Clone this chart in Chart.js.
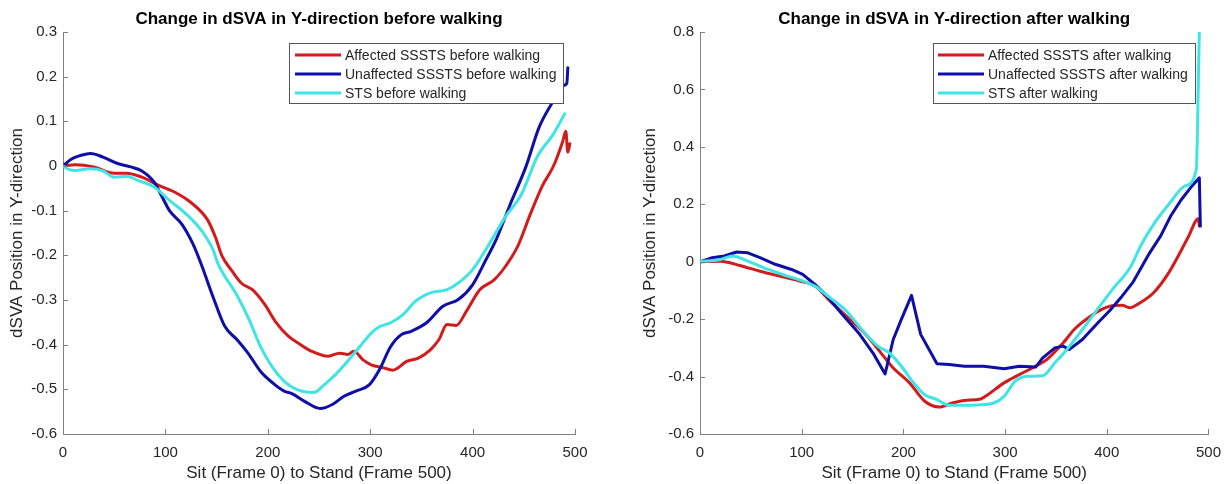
<!DOCTYPE html>
<html>
<head>
<meta charset="utf-8">
<title>Change in dSVA in Y-direction</title>
<script src="https://cdn.jsdelivr.net/npm/chart.js@4.4.1/dist/chart.umd.min.js"></script>
<style>
  html, body { margin: 0; padding: 0; background: #fff; }
  #wrap { position: relative; width: 1231px; height: 484px; overflow: hidden; }
  .panel { position: absolute; top: 0; }
  #left { left: 0; }
  #right { left: 633px; }
</style>
</head>
<body>
<div id="wrap">
  <div class="panel" id="left"><canvas id="chartBefore" width="615" height="484"></canvas></div>
  <div class="panel" id="right"><canvas id="chartAfter" width="598" height="484"></canvas></div>
</div>
<script>
// ---- data: frame numbers (x) and dSVA Y position (y) ----

// before walking
const affBeforeX = [0, 12, 30, 50, 62, 77, 93, 112, 124, 141, 149, 155, 165, 174, 185, 197, 208, 220, 232, 243, 259, 270, 278, 284, 293, 301, 313, 322, 336, 347, 359, 367, 375, 384, 394, 407, 421, 432, 444, 456, 468, 479, 488, 491, 493, 495];
const affBeforeY = [0, 0.003, -0.002, -0.016, -0.016, -0.025, -0.043, -0.062, -0.08, -0.12, -0.16, -0.2, -0.235, -0.262, -0.277, -0.31, -0.35, -0.381, -0.4, -0.415, -0.426, -0.419, -0.422, -0.415, -0.434, -0.445, -0.452, -0.457, -0.437, -0.43, -0.411, -0.389, -0.355, -0.357, -0.325, -0.277, -0.255, -0.225, -0.18, -0.11, -0.045, 0.0, 0.055, 0.078, 0.031, 0.05];

const unaffBeforeX = [0, 8, 15, 27, 39, 54, 66, 77, 89, 97, 104, 116, 127, 135, 147, 158, 170, 181, 193, 205, 216, 224, 236, 251, 263, 274, 286, 299, 309, 320, 330, 340, 355, 371, 386, 400, 413, 423, 436, 452, 465, 477, 488, 492, 493];
const unaffBeforeY = [0, 0.015, 0.022, 0.028, 0.02, 0.005, -0.002, -0.011, -0.036, -0.07, -0.1, -0.13, -0.175, -0.22, -0.296, -0.359, -0.389, -0.42, -0.46, -0.486, -0.504, -0.51, -0.527, -0.543, -0.534, -0.516, -0.504, -0.49, -0.456, -0.404, -0.378, -0.37, -0.351, -0.314, -0.299, -0.266, -0.21, -0.165, -0.09, -0.002, 0.087, 0.139, 0.18, 0.185, 0.22];

const stsBeforeX = [0, 6, 12, 27, 39, 50, 62, 73, 89, 104, 120, 135, 147, 151, 170, 182, 193, 205, 216, 228, 245, 255, 266, 278, 290, 301, 309, 320, 332, 344, 359, 375, 386, 400, 413, 432, 448, 463, 479, 490];
const stsBeforeY = [0, -0.008, -0.01, -0.006, -0.011, -0.025, -0.023, -0.032, -0.047, -0.077, -0.107, -0.144, -0.19, -0.217, -0.29, -0.345, -0.405, -0.452, -0.482, -0.5, -0.507, -0.49, -0.467, -0.437, -0.404, -0.374, -0.36, -0.351, -0.333, -0.303, -0.284, -0.277, -0.262, -0.232, -0.187, -0.114, -0.062, 0.02, 0.072, 0.117];

// after walking
const affAfterX = [0, 20, 39, 59, 78, 98, 113, 128, 144, 163, 183, 190, 206, 221, 235, 248, 260, 276, 283, 299, 314, 330, 341, 357, 368, 384, 395, 403, 415, 423, 430, 446, 461, 480, 490, 491];
const affAfterY = [0, 0.002, -0.013, -0.033, -0.05, -0.067, -0.085, -0.137, -0.19, -0.253, -0.34, -0.37, -0.422, -0.486, -0.506, -0.492, -0.483, -0.478, -0.463, -0.422, -0.393, -0.364, -0.341, -0.283, -0.236, -0.19, -0.166, -0.155, -0.152, -0.16, -0.149, -0.108, -0.038, 0.085, 0.15, 0.124];

const unaffAfterX = [0, 12, 24, 36, 47, 59, 74, 90, 101, 113, 125, 140, 156, 171, 182, 190, 198, 208, 217, 233, 245, 260, 279, 299, 314, 330, 337, 349, 357, 363, 376, 392, 403, 415, 426, 442, 453, 463, 473, 484, 491, 492];
const unaffAfterY = [0, 0.014, 0.02, 0.034, 0.031, 0.014, -0.009, -0.027, -0.044, -0.079, -0.12, -0.184, -0.248, -0.323, -0.391, -0.271, -0.201, -0.117, -0.253, -0.355, -0.358, -0.364, -0.364, -0.373, -0.364, -0.367, -0.335, -0.3, -0.294, -0.306, -0.271, -0.21, -0.17, -0.12, -0.07, 0.03, 0.09, 0.16, 0.215, 0.265, 0.292, 0.124];

const stsAfterX = [0, 20, 32, 47, 67, 86, 101, 113, 128, 144, 159, 175, 186, 198, 210, 221, 233, 245, 260, 276, 289, 299, 310, 322, 337, 349, 361, 376, 392, 407, 423, 434, 446, 461, 477, 488, 489, 490, 491];
const stsAfterY = [0, 0.008, 0.02, 0.002, -0.027, -0.05, -0.067, -0.085, -0.126, -0.172, -0.236, -0.294, -0.317, -0.364, -0.422, -0.463, -0.48, -0.5, -0.5, -0.498, -0.492, -0.469, -0.416, -0.399, -0.397, -0.352, -0.305, -0.236, -0.16, -0.09, -0.02, 0.06, 0.13, 0.2, 0.264, 0.321, 0.426, 0.623, 0.8];

const labelsBefore = ['Affected SSSTS before walking', 'Unaffected SSSTS before walking', 'STS before walking'];
const labelsAfter = ['Affected SSSTS after walking', 'Unaffected SSSTS after walking', 'STS after walking'];

// ---- styling ----
Chart.defaults.font.family = "'Liberation Sans', Arial, Helvetica, sans-serif";
Chart.defaults.color = '#262626';

const RED = 'rgb(210,28,28)';
const BLUE = 'rgb(14,14,168)';
const CYAN = 'rgb(64,228,228)';
const AXIS = '#808080';

function toPoints(xs, ys) {
  return xs.map((x, i) => ({ x, y: ys[i] }));
}

function series(label, xs, ys, color, order, sharp) {
  const ds = {
    label,
    data: toPoints(xs, ys),
    borderColor: color,
    backgroundColor: color,
    borderWidth: 3,
    pointRadius: 0,
    fill: false,
    borderJoinStyle: 'round',
    borderCapStyle: 'round',
    order
  };
  if (sharp) ds.tension = 0;
  else ds.cubicInterpolationMode = 'monotone';
  return ds;
}

// matlab style ticks pointing into the plot
const inwardTicks = {
  id: 'inwardTicks',
  afterDatasetsDraw(chart) {
    const { ctx, chartArea, scales: { x, y } } = chart;
    ctx.save();
    ctx.strokeStyle = AXIS;
    ctx.lineWidth = 1;
    ctx.beginPath();
    x.ticks.forEach((t, i) => {
      const px = Math.round(x.getPixelForTick(i)) + 0.5;
      ctx.moveTo(px, chartArea.bottom);
      ctx.lineTo(px, chartArea.bottom - 5);
    });
    y.ticks.forEach((t, i) => {
      const py = Math.round(y.getPixelForTick(i)) + 0.5;
      ctx.moveTo(chartArea.left, py);
      ctx.lineTo(chartArea.left + 5, py);
    });
    ctx.stroke();
    ctx.restore();
  }
};

// boxed legend inside the top right of the plot
const boxLegend = {
  id: 'boxLegend',
  afterDatasetsDraw(chart, args, opts) {
    const { ctx, chartArea } = chart;
    const items = chart.data.datasets;
    ctx.save();
    ctx.font = "14px 'Liberation Sans', Arial, sans-serif";
    const textW = Math.max(...items.map(d => ctx.measureText(d.label).width));
    const w = Math.round(opts.textX + textW + 7);
    const h = 60;
    const right = Math.round(chartArea.right - opts.marginRight);
    const top = Math.round(chartArea.top + 11);
    const left = right - w;
    ctx.fillStyle = '#fff';
    ctx.fillRect(left, top, w, h);
    ctx.strokeStyle = '#555';
    ctx.lineWidth = 1;
    ctx.strokeRect(left + 0.5, top + 0.5, w, h);
    items.forEach((d, i) => {
      const cy = top + 12 + i * 19;
      ctx.strokeStyle = d.borderColor;
      ctx.lineWidth = 3;
      ctx.beginPath();
      ctx.moveTo(left + opts.lineX0, cy);
      ctx.lineTo(left + opts.lineX1, cy);
      ctx.stroke();
      ctx.fillStyle = '#262626';
      ctx.textBaseline = 'middle';
      ctx.textAlign = 'left';
      ctx.fillText(d.label, left + opts.textX, cy + 1);
    });
    ctx.restore();
  }
};

function makeChart(canvasId, title, labels, data, yOpts, layout) {
  const ctx = document.getElementById(canvasId).getContext('2d');
  return new Chart(ctx, {
    type: 'line',
    data: {
      datasets: [
        series(labels[0], data[0][0], data[0][1], RED, 2, false),
        series(labels[1], data[1][0], data[1][1], BLUE, 1, layout.sharpBlue),
        series(labels[2], data[2][0], data[2][1], CYAN, 0, false)
      ]
    },
    options: {
      responsive: false,
      animation: false,
      events: [],
      layout: { padding: { left: 0, right: layout.padRight, top: 0, bottom: 0 } },
      plugins: {
        legend: { display: false },
        tooltip: { enabled: false },
        title: {
          display: true,
          fullSize: false,
          text: title,
          color: '#000',
          font: { size: 17, weight: 'bold' },
          padding: { top: 9, bottom: 2.6 }
        },
        boxLegend: layout.legend
      },
      scales: {
        x: {
          type: 'linear',
          min: 0,
          max: 500,
          ticks: { stepSize: 100, font: { size: 15 }, padding: 10, maxRotation: 0 },
          grid: { display: false, drawTicks: false },
          border: { display: true, color: AXIS, width: 1 },
          title: {
            display: true,
            text: 'Sit (Frame 0) to Stand (Frame 500)',
            font: { size: 17 },
            padding: { top: 0, bottom: 0 }
          },
          afterFit: s => { s.height = 50; }
        },
        y: {
          type: 'linear',
          min: yOpts.min,
          max: yOpts.max,
          ticks: { stepSize: yOpts.step, font: { size: 15 }, padding: 6 },
          grid: { display: false, drawTicks: false },
          border: { display: true, color: AXIS, width: 1 },
          title: {
            display: true,
            text: 'dSVA Position in Y-direction',
            font: { size: 17 },
            padding: { top: 7, bottom: 0 }
          },
          afterFit: s => { s.width = layout.yWidth; }
        }
      }
    },
    plugins: [inwardTicks, boxLegend]
  });
}

makeChart('chartBefore', 'Change in dSVA in Y-direction before walking', labelsBefore,
  [[affBeforeX, affBeforeY], [unaffBeforeX, unaffBeforeY], [stsBeforeX, stsBeforeY]],
  { min: -0.6, max: 0.3, step: 0.1 },
  { padRight: 40, yWidth: 63, sharpBlue: false, legend: { marginRight: 12, lineX0: 6, lineX1: 52, textX: 56 } });

makeChart('chartAfter', 'Change in dSVA in Y-direction after walking', labelsAfter,
  [[affAfterX, affAfterY], [unaffAfterX, unaffAfterY], [stsAfterX, stsAfterY]],
  { min: -0.6, max: 0.8, step: 0.2 },
  { padRight: 20, yWidth: 67, sharpBlue: true, legend: { marginRight: 13, lineX0: 5, lineX1: 51, textX: 55 } });
</script>
</body>
</html>
